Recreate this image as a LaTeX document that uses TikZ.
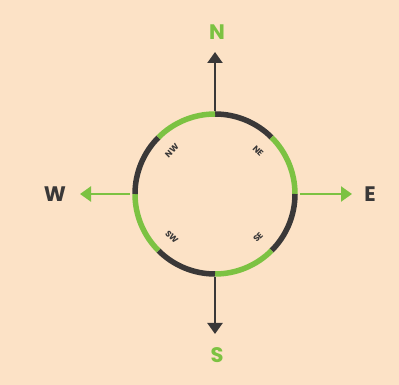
\documentclass[tikz,border=0pt]{standalone}
\usepackage{fontspec}
\setmainfont{Poppins}
\usetikzlibrary{arrows.meta,calc}
\definecolor{bg}{HTML}{FCE2C6}
\definecolor{grn}{HTML}{7CC242}
\definecolor{drk}{HTML}{3A3838}
\tikzset{
  dir/.style={font=\fontsize{21}{21}\selectfont\bfseries, inner sep=0pt},
  sub/.style={font=\fontsize{8.5}{8.5}\selectfont\bfseries, text=drk, inner sep=0pt},
  ring/.style={line width=5.5pt},
  arr/.style={line width=2.2pt, -{Triangle[length=11pt,width=15pt]}},
}
\begin{document}
\begin{tikzpicture}[x=1pt,y=1pt]
\fill[bg] (0,0) rectangle (399,385);
\useasboundingbox (0,0) rectangle (399,385);
\coordinate (c) at (215,191);
% ring segments
\foreach \a/\col in {90/drk,45/grn,0/drk,-45/grn,-90/drk,-135/grn,180/drk,135/grn}{
  \draw[ring,\col] ($(c)+(\a:80)$) arc[start angle=\a, delta angle=-45, radius=80];
}
% labels
\node[sub, rotate=45] (nw) at ($(c)+(135:61)$) {NW};
\node[sub, rotate=-45] (ne) at ($(c)+(45:61)$) {NE};
\node[sub, rotate=-45] (sw) at ($(c)+(-135:61)$) {SW};
\node[sub, rotate=45] (se) at ($(c)+(-45:61)$) {SE};
% directions
\node[dir, text=grn] (n) at (217,353) {N};
\node[dir, text=grn] (s) at (217,30) {S};
\node[dir, text=drk] (w) at (55,191) {W};
\node[dir, text=drk] (e) at (370,191) {E};
\coordinate (nt) at (215,274);
\coordinate (nh) at (215,333);
\coordinate (st) at (215,108);
\coordinate (sh) at (215,51);
\coordinate (wt) at (130,191);
\coordinate (wh) at (80,191);
\coordinate (et) at (300,191);
\coordinate (eh) at (352,191);
\draw[arr, drk] (nt) -- (nh);
\draw[arr, drk] (st) -- (sh);
\draw[arr, grn] (wt) -- (wh);
\draw[arr, grn] (et) -- (eh);
\end{tikzpicture}
\end{document}
